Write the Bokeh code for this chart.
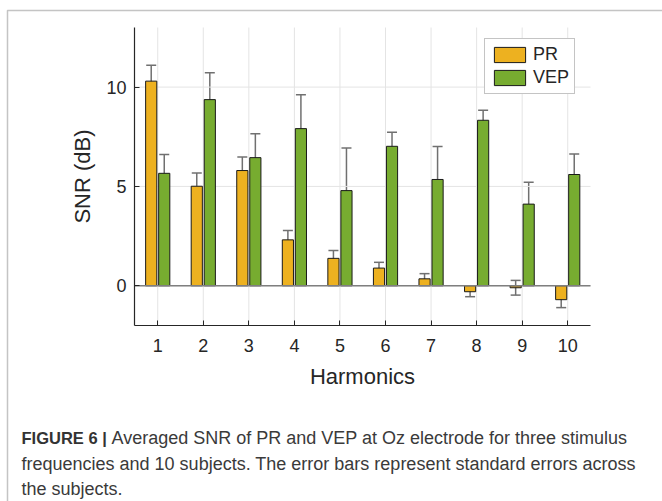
from bokeh.plotting import figure
from bokeh.models import (ColumnDataSource, Whisker, TeeHead, Label, LinearAxis,
                          PolyAnnotation, Legend, LegendItem, FixedTicker, Range1d)
from bokeh.embed import file_html
from bokeh.resources import INLINE

# ---- data ----
harmonics = [1, 2, 3, 4, 5, 6, 7, 8, 9, 10]
pr_snr = [10.30, 5.01, 5.80, 2.31, 1.38, 0.89, 0.35, -0.30, -0.10, -0.70]
pr_se = [0.80, 0.67, 0.68, 0.47, 0.40, 0.29, 0.26, 0.25, 0.37, 0.40]
vep_snr = [5.66, 9.37, 6.45, 7.91, 4.79, 7.02, 5.35, 8.33, 4.11, 5.60]
vep_se = [0.95, 1.35, 1.20, 1.70, 2.14, 0.71, 1.66, 0.50, 1.10, 1.03]
x_tick_labels = [str(h) for h in harmonics]
y_ticks = [0, 5, 10]
series_names = ["PR", "VEP"]
caption_bold = "FIGURE 6 |"
caption_lines = [
    "Averaged SNR of PR and VEP at Oz electrode for three stimulus",
    "frequencies and 10 subjects. The error bars represent standard errors across",
    "the subjects.",
]

# ---- layout / styling ----
W, H = 662, 501
FONT = "Liberation Sans"
PR_COLOR = "#EDB120"
VEP_COLOR = "#77AC30"
OFFSET = 0.143
BAR_W = 0.245

X0, X1, Y0, Y1 = 0.49, 10.5, -2.0, 13.0      # axes limits
FL, FR, FT, FB = 134, 590, 27, 325            # axes box in canvas px
kx = (FR - FL) / (X1 - X0)
ky = (FB - FT) / (Y1 - Y0)
xr = Range1d(X0 - FL / kx, X1 + (W - FR) / kx)
yr = Range1d(Y0 - (H - FB) / ky, Y1 + FT / ky)

src = ColumnDataSource(dict(
    x=harmonics,
    x_pr=[h - OFFSET for h in harmonics],
    x_vep=[h + OFFSET for h in harmonics],
    pr=pr_snr, vep=vep_snr,
    pr_lo=[v - e for v, e in zip(pr_snr, pr_se)],
    pr_hi=[v + e for v, e in zip(pr_snr, pr_se)],
    vep_lo=[v - e for v, e in zip(vep_snr, vep_se)],
    vep_hi=[v + e for v, e in zip(vep_snr, vep_se)],
))

p = figure(width=W, height=H, output_backend="svg", toolbar_location=None,
           x_range=xr, y_range=yr, x_axis_type=None, y_axis_type=None,
           min_border=0)
p.outline_line_color = None
p.background_fill_color = "white"
p.border_fill_color = "white"
p.xgrid.visible = False
p.ygrid.visible = False

GRID = "#e4e4e4"
# vertical grid lines at the x ticks
p.segment(x0=harmonics, y0=[Y0] * len(harmonics), x1=harmonics, y1=[Y1] * len(harmonics),
          line_color=GRID, line_width=1)
# horizontal grid lines at the y ticks
p.segment(x0=[X0] * len(y_ticks), y0=y_ticks, x1=[X1] * len(y_ticks), y1=y_ticks,
          line_color=GRID, line_width=1)

# bars
r_pr = p.vbar(x="x_pr", top="pr", bottom=0, width=BAR_W, source=src,
              fill_color=PR_COLOR, line_color="#1a1a1a", line_width=1)
r_vep = p.vbar(x="x_vep", top="vep", bottom=0, width=BAR_W, source=src,
               fill_color=VEP_COLOR, line_color="#1a1a1a", line_width=1)

# baseline at 0
p.segment(x0=[X0], y0=[0], x1=[X1], y1=[0], line_color="#7f7f7f", line_width=1.5)

# error bars
EB = "#707070"
for base, lo, hi in (("x_pr", "pr_lo", "pr_hi"), ("x_vep", "vep_lo", "vep_hi")):
    p.add_layout(Whisker(source=src, base=base, lower=lo, upper=hi, dimension="height",
                         line_color=EB, line_width=1.5,
                         upper_head=TeeHead(size=10, line_color=EB, line_width=1.5),
                         lower_head=TeeHead(size=10, line_color=EB, line_width=1.5)))

# axes (box off: only left and bottom)
xaxis = LinearAxis(fixed_location=Y0, bounds=(X0, X1), ticker=FixedTicker(ticks=harmonics),
                   axis_label="Harmonics")
xaxis.major_label_overrides = {h: lab for h, lab in zip(harmonics, x_tick_labels)}
yaxis = LinearAxis(fixed_location=X0, bounds=(Y0, Y1), ticker=FixedTicker(ticks=y_ticks),
                   axis_label="SNR (dB)")
for ax in (xaxis, yaxis):
    ax.axis_line_color = "#262626"
    ax.axis_line_width = 1.2
    ax.major_tick_line_color = "#262626"
    ax.major_tick_in = 5
    ax.major_tick_out = 0
    ax.minor_tick_line_color = None
    ax.major_label_text_font = FONT
    ax.major_label_text_font_size = "18px"
    ax.major_label_text_color = "#262626"
    ax.axis_label_text_font = FONT
    ax.axis_label_text_font_size = "22px"
    ax.axis_label_text_font_style = "normal"
    ax.axis_label_text_color = "#262626"
xaxis.major_label_standoff = 13
yaxis.major_label_standoff = 8
xaxis.axis_label_standoff = 9
yaxis.axis_label_standoff = 8
p.add_layout(xaxis, "below")
p.add_layout(yaxis, "left")

# legend (bottom-left corner of the box, in px from the canvas bottom-left)
legend = Legend(items=[LegendItem(label=series_names[0], renderers=[r_pr]),
                       LegendItem(label=series_names[1], renderers=[r_vep])],
                location=(484, H - 94), padding=5, spacing=2,
                glyph_width=39, glyph_height=19, label_standoff=4,
                label_text_font=FONT, label_text_font_size="18px",
                label_text_color="#262626",
                border_line_color="#8a8a8a", border_line_width=1,
                background_fill_color="white", background_fill_alpha=1)
p.add_layout(legend)

# outer frame of the figure panel
frame_x = [7, 700, 700, 7]
frame_y = [10, 10, 540, 540]
p.add_layout(PolyAnnotation(xs=frame_x, ys=[H - y for y in frame_y],
                            xs_units="screen", ys_units="screen",
                            fill_alpha=0, line_color="#3c3c3c", line_width=1.5))

# caption
cap_x = 21
baselines = [437.5, 463, 488.5]
p.add_layout(Label(x=cap_x, y=H - baselines[0], x_units="screen", y_units="screen",
                   text=caption_bold, text_font=FONT, text_font_size="16.5px",
                   text_font_style="bold", text_color="#333333",
                   text_baseline="alphabetic"))
for i, line in enumerate(caption_lines):
    lx = 111 if i == 0 else cap_x
    p.add_layout(Label(x=lx, y=H - baselines[i], x_units="screen", y_units="screen",
                       text=line, text_font=FONT, text_font_size="18px",
                       text_color="#3a3a3a", text_baseline="alphabetic"))

open("out.html", "w").write(file_html(p, INLINE))
